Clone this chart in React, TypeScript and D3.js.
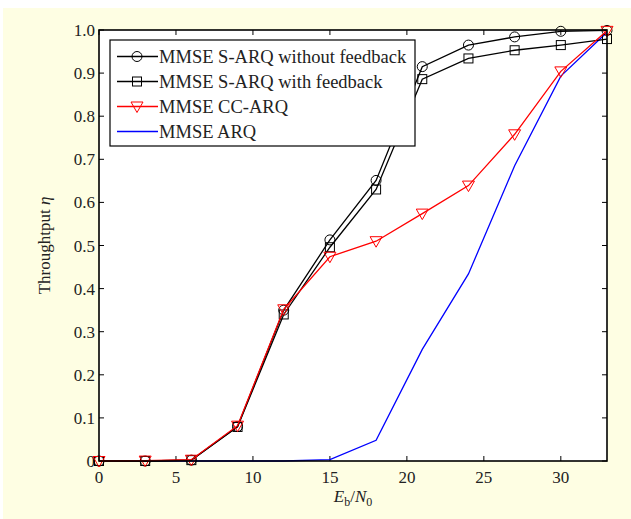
import React, { useEffect, useRef } from 'react';
import * as d3 from 'd3';

const snr = [0, 3, 6, 9, 12, 15, 18, 21, 24, 27, 30, 33];
const sarqNoFeedback = [0, 0, 0.002, 0.08, 0.35, 0.513, 0.651, 0.915, 0.965, 0.984, 0.997, 0.999];
const sarqFeedback = [0, 0, 0.002, 0.079, 0.34, 0.496, 0.63, 0.886, 0.934, 0.953, 0.965, 0.979];
const ccArq = [0, 0.001, 0.003, 0.082, 0.352, 0.474, 0.51, 0.574, 0.639, 0.758, 0.904, 0.998];
const plainArq = [0, 0, 0, 0, 0, 0.003, 0.048, 0.259, 0.434, 0.685, 0.893, 0.995];
const xTicks = [0, 5, 10, 15, 20, 25, 30];
const yTicks = [0, 0.1, 0.2, 0.3, 0.4, 0.5, 0.6, 0.7, 0.8, 0.9, 1.0];
const legendLabels = ['MMSE S-ARQ without feedback', 'MMSE S-ARQ with feedback', 'MMSE CC-ARQ', 'MMSE ARQ'];

export default function App() {
  const ref = useRef<SVGSVGElement>(null);

  useEffect(() => {
    const W = 631, H = 519;
    const margin = { top: 30, right: 24, bottom: 58, left: 99 };
    const width = W - margin.left - margin.right;
    const height = H - margin.top - margin.bottom;

    const svg = d3.select(ref.current);
    svg.selectAll('*').remove();

    // page background
    svg.append('rect').attr('width', W).attr('height', H).attr('fill', '#ffffff');
    svg.append('rect').attr('x', 3).attr('y', 8).attr('width', W - 3).attr('height', H - 8).attr('fill', '#fefee3');

    const g = svg.append('g').attr('transform', `translate(${margin.left},${margin.top})`);

    const x = d3.scaleLinear().domain([0, 33]).range([0, width]);
    const y = d3.scaleLinear().domain([0, 1]).range([height, 0]);

    g.append('rect').attr('width', width).attr('height', height).attr('fill', '#fff');

    const font = '"Liberation Serif", "Times New Roman", serif';

    // ticks (inward, all four sides)
    const tl = 5;
    xTicks.forEach(t => {
      g.append('line').attr('x1', x(t)).attr('x2', x(t)).attr('y1', height).attr('y2', height - tl).attr('stroke', '#000');
      g.append('line').attr('x1', x(t)).attr('x2', x(t)).attr('y1', 0).attr('y2', tl).attr('stroke', '#000');
      g.append('text').attr('x', x(t)).attr('y', height + 22).attr('text-anchor', 'middle')
        .attr('font-family', font).attr('font-size', 17).attr('fill', '#222').text(t);
    });
    yTicks.forEach(t => {
      g.append('line').attr('x1', 0).attr('x2', tl).attr('y1', y(t)).attr('y2', y(t)).attr('stroke', '#000');
      g.append('line').attr('x1', width).attr('x2', width - tl).attr('y1', y(t)).attr('y2', y(t)).attr('stroke', '#000');
      g.append('text').attr('x', -4).attr('y', y(t) + 6).attr('text-anchor', 'end')
        .attr('font-family', font).attr('font-size', 17).attr('fill', '#222')
        .text(t === 0 ? '0' : d3.format('.1f')(t));
    });

    const line = d3.line<number>().x((_, i) => x(snr[i])).y(d => y(d));

    const series = [
      { data: plainArq, color: '#0000ff', marker: 'none' },
      { data: sarqFeedback, color: '#000', marker: 'square' },
      { data: sarqNoFeedback, color: '#000', marker: 'circle' },
      { data: ccArq, color: '#ff0000', marker: 'triangle' },
    ];

    const drawMarker = (sel: any, kind: string, cx: number, cy: number, color: string) => {
      if (kind === 'circle') {
        sel.append('circle').attr('cx', cx).attr('cy', cy).attr('r', 5).attr('fill', 'none').attr('stroke', color);
      } else if (kind === 'square') {
        sel.append('rect').attr('x', cx - 4.5).attr('y', cy - 4.5).attr('width', 9).attr('height', 9).attr('fill', 'none').attr('stroke', color);
      } else if (kind === 'triangle') {
        sel.append('path').attr('d', `M${cx - 6},${cy - 4.5}L${cx + 6},${cy - 4.5}L${cx},${cy + 6}Z`).attr('fill', 'none').attr('stroke', color);
      }
    };

    series.forEach(s => {
      g.append('path').datum(s.data).attr('d', line).attr('fill', 'none').attr('stroke', s.color).attr('stroke-width', 1.3);
      s.data.forEach((v, i) => drawMarker(g, s.marker, x(snr[i]), y(v), s.color));
    });

    // frame
    g.append('rect').attr('width', width).attr('height', height).attr('fill', 'none').attr('stroke', '#000').attr('stroke-width', 1.6);

    // legend
    const lg = svg.append('g').attr('transform', 'translate(110,40)');
    lg.append('rect').attr('width', 305).attr('height', 106).attr('fill', '#fff').attr('stroke', '#000').attr('stroke-width', 1.2);
    const legendSeries = [series[2], series[1], series[3], series[0]];
    legendLabels.forEach((lab, i) => {
      const ly = 16.5 + i * 25;
      const s = legendSeries[i];
      lg.append('line').attr('x1', 7).attr('x2', 48).attr('y1', ly).attr('y2', ly).attr('stroke', s.color).attr('stroke-width', 1.3);
      drawMarker(lg, s.marker, 27, ly, s.color);
      lg.append('text').attr('x', 49).attr('y', ly + 6).attr('font-family', font).attr('font-size', 18.5).attr('fill', '#222').text(lab);
    });

    // axis titles
    const xt = svg.append('text').attr('x', margin.left + x(16.5)).attr('y', 502).attr('text-anchor', 'middle')
      .attr('font-family', font).attr('font-size', 17).attr('fill', '#222');
    xt.append('tspan').attr('font-style', 'italic').text('E');
    xt.append('tspan').attr('font-size', 12).attr('dy', 4).text('b');
    xt.append('tspan').attr('dy', -4).text('/');
    xt.append('tspan').attr('font-style', 'italic').text('N');
    xt.append('tspan').attr('font-size', 12).attr('dy', 4).text('0');

    const yt = svg.append('text').attr('transform', `translate(50,${margin.top + height / 2}) rotate(-90)`)
      .attr('text-anchor', 'middle').attr('font-family', font).attr('font-size', 17).attr('fill', '#222');
    yt.append('tspan').text('Throughtput ');
    yt.append('tspan').attr('font-style', 'italic').text('η');
  }, []);

  return (
    <svg ref={ref} width={631} height={519} style={{ position: 'fixed', left: 0, top: 0 }} />
  );
}
